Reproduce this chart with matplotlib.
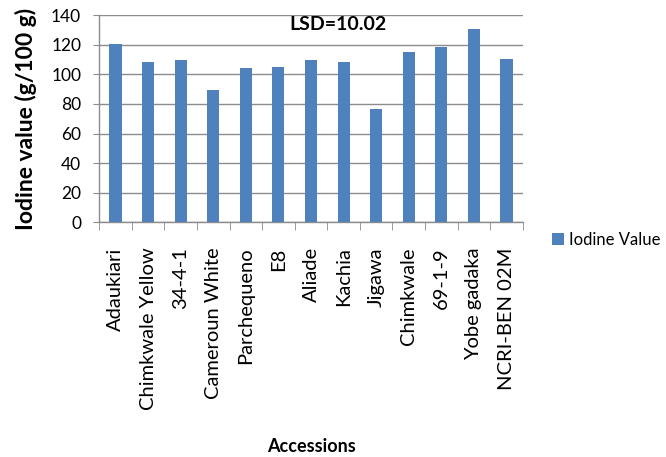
import matplotlib
matplotlib.use("Agg")
import matplotlib.pyplot as plt
from matplotlib.patches import Patch
import numpy as np

accessions = ["Adaukiari", "Chimkwale Yellow", "34-4-1", "Cameroun White",
              "Parchequeno", "E8", "Aliade", "Kachia", "Jigawa", "Chimkwale",
              "69-1-9", "Yobe gadaka", "NCRI-BEN 02M"]
iodine_value = [120.8, 108.2, 109.5, 89.4, 104.3, 105.0, 109.5, 108.2,
                76.6, 114.9, 118.5, 130.5, 110.2]
y_ticks = [0, 20, 40, 60, 80, 100, 120, 140]
series_name = "Iodine Value"
lsd_text = "LSD=10.02"

plt.rcParams["font.family"] = ["Lato", "DejaVu Sans"]

bar_color = "#4F81BD"
grid_color = "#8C8C8C"

fig = plt.figure(figsize=(6.66, 4.57), dpi=100)
ax = fig.add_axes([0.149, 0.5136, 0.636, 0.453])

x = np.arange(len(accessions))
ax.bar(x, iodine_value, width=0.37, color=bar_color, zorder=3, label=series_name)

ax.set_xlim(-0.5, len(accessions) - 0.5)
ax.set_ylim(0, 140)
ax.set_yticks(y_ticks)
ax.yaxis.grid(True, color=grid_color, linewidth=1.0, zorder=0)

ax.set_xticks(x)
ax.set_xticklabels(accessions, rotation=90, va="top", ha="center", fontsize=14.5)
ax.set_xticks(np.arange(-0.5, len(accessions)), minor=True)
ax.tick_params(axis="x", which="major", length=0, pad=18)
ax.tick_params(axis="x", which="minor", length=6, color=grid_color, direction="out")
ax.tick_params(axis="y", length=4, color=grid_color, labelsize=12.5, pad=9)

for side in ("top", "right"):
    ax.spines[side].set_visible(False)
for side in ("left", "bottom"):
    ax.spines[side].set_color(grid_color)
    ax.spines[side].set_linewidth(1.0)

ax.set_ylabel("Iodine value (g/100 g)", fontsize=16.5, fontweight="bold")
ax.yaxis.set_label_coords(-0.147, 0.5)
ax.set_xlabel("Accessions", fontsize=13, fontweight="bold")
ax.xaxis.set_label_coords(0.5, -1.04)

ax.text(0.564, 0.953, lsd_text, transform=ax.transAxes, ha="center", va="center",
        fontsize=14, fontweight="bold")

handle = Patch(facecolor=bar_color, edgecolor="none", label=series_name)
ax.legend(handles=[handle], loc="center left", bbox_to_anchor=(1.05, -0.085),
          frameon=False, fontsize=12, handlelength=0.7, handleheight=0.7,
          handletextpad=0.3, borderpad=0)

fig.savefig("out.png", dpi=100)
